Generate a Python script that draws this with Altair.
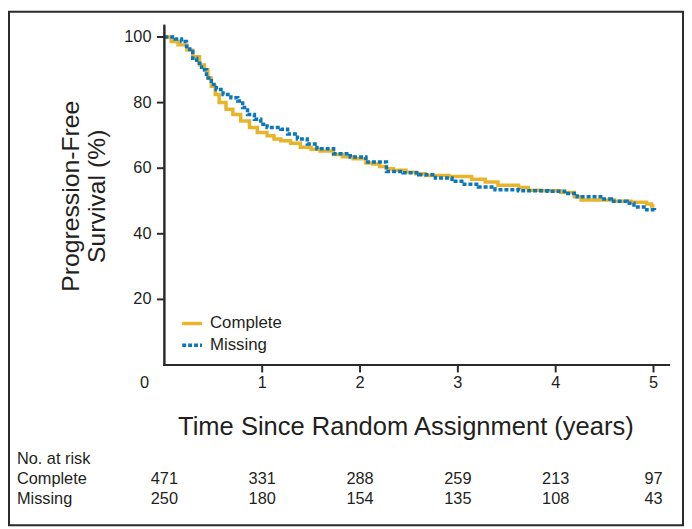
import altair as alt
import pandas as pd

# ---- data ----
complete_t = [0, 0.07, 0.14, 0.23, 0.29, 0.36, 0.41, 0.445, 0.48, 0.52, 0.56, 0.63, 0.70, 0.78,
              0.87, 0.95, 1.05, 1.12, 1.19, 1.29, 1.39, 1.50, 1.59, 1.73, 1.82, 1.93, 2.06, 2.13,
              2.20, 2.27, 2.34, 2.47, 2.57, 2.67, 2.91, 3.14, 3.28, 3.41, 3.62, 3.72, 3.85, 4.05,
              4.19, 4.26, 4.60, 4.77, 4.93, 4.98, 5.01]
complete_s = [100, 98.6, 97.6, 96, 94, 91.5, 90, 87.5, 85, 82.5, 80, 78, 76.4, 74.4,
              72.4, 70.9, 69.9, 68.9, 68.4, 67.6, 66.4, 65.8, 65.2, 64.2, 63.5, 62.9, 61.6, 61.3,
              60.5, 59.8, 59.4, 58.8, 58.3, 57.8, 57.5, 56.6, 55.8, 54.8, 54.1, 53.3, 53.1, 52.6,
              51.3, 50.3, 49.9, 49.6, 49.1, 48.5, 48.5]

missing_t = [0, 0.11, 0.175, 0.226, 0.26, 0.29, 0.33, 0.38, 0.43, 0.48, 0.53, 0.60, 0.68, 0.75,
             0.80, 0.85, 0.92, 0.985, 1.05, 1.19, 1.26, 1.36, 1.46, 1.56, 1.73, 1.90, 2.06, 2.27,
             2.44, 2.60, 2.77, 2.94, 3.04, 3.21, 3.38, 3.62, 3.92, 4.09, 4.22, 4.46, 4.57, 4.73,
             4.80, 4.93, 5.01]
missing_s = [100, 99.4, 98.6, 97.1, 95.6, 93.5, 92, 90, 87.5, 85.5, 84, 82.5, 81.5, 80.5,
             78.5, 76.4, 74.9, 73.4, 72.4, 71.9, 70.4, 68.9, 67.4, 65.9, 64.4, 63.4, 61.9, 59.0,
             58.6, 58.0, 57.0, 56.0, 55.1, 54.3, 53.4, 53.1, 53.0, 52.3, 51.3, 50.6, 49.9, 49.3,
             48.2, 47.3, 47.2]

groups = ["Complete", "Missing"]
colors = ["#E8B52A", "#0A76BC"]

risk_times = [0, 1, 2, 3, 4, 5]
risk_complete = [471, 331, 288, 259, 213, 97]
risk_missing = [250, 180, 154, 135, 108, 43]
row_labels = ["No. at risk", "Complete", "Missing"]

x_ticks = [1, 2, 3, 4, 5]
y_ticks = [20, 40, 60, 80, 100]
x_extent = [0, 5.16]
y_extent = [0, 103.5]
x_title = "Time Since Random Assignment (years)"
y_title = ["Progression-Free", "Survival (%)"]

FONT = "Liberation Sans, Arial, Helvetica, sans-serif"
TXT = "#231F20"
AX = "#2a2a2a"

km = pd.DataFrame(
    {"time": complete_t + missing_t,
     "surv": complete_s + missing_s,
     "group": ["Complete"] * len(complete_t) + ["Missing"] * len(missing_t)}
)
risk_c = pd.DataFrame({"time": risk_times, "n": [str(v) for v in risk_complete]})
risk_m = pd.DataFrame({"time": risk_times, "n": [str(v) for v in risk_missing]})
xt_df = pd.DataFrame({"time": x_ticks, "lab": [str(v) for v in x_ticks]})
yt_df = pd.DataFrame({"surv": y_ticks, "lab": [str(v) for v in y_ticks]})
xd_df = pd.DataFrame({"time": x_extent})
yd_df = pd.DataFrame({"surv": y_extent})

W, H = 510, 343

xscale = alt.Scale(domain=x_extent, nice=False, zero=False)
yscale = alt.Scale(domain=y_extent, nice=False)
XQ = alt.X("time:Q", scale=xscale, axis=None)
YQ = alt.Y("surv:Q", scale=yscale, axis=None)

leg = alt.Legend(title=None, orient="none", legendX=16, legendY=289,
                 symbolType="stroke", symbolSize=400, symbolStrokeWidth=3.5,
                 labelFontSize=17, labelFont=FONT, labelColor=TXT,
                 labelOffset=6, rowPadding=2, padding=0)

one = alt.Data(values=[{}])

lines = alt.Chart(km).mark_line(interpolate="step-after", strokeWidth=3.5).encode(
    x=XQ, y=YQ,
    color=alt.Color("group:N", scale=alt.Scale(domain=groups, range=colors), legend=leg),
    strokeDash=alt.StrokeDash("group:N", scale=alt.Scale(domain=groups, range=[[1, 0], [4, 2]]),
                              legend=leg),
)

# axis lines (path and rect versions in the same place) and tick marks, drawn after the curves
x_domain = alt.Chart(xd_df).mark_line(color=AX, strokeWidth=2, strokeCap="square").encode(
    x=XQ, y=alt.value(H))
y_domain = alt.Chart(yd_df).mark_line(color=AX, strokeWidth=2, strokeCap="square").encode(
    y=YQ, x=alt.value(0))
x_domain_r = alt.Chart(one).mark_rect(color=AX, opacity=1).encode(
    x=alt.value(-1), x2=alt.value(W), y=alt.value(H - 1), y2=alt.value(H + 1))
y_domain_r = alt.Chart(one).mark_rect(color=AX, opacity=1).encode(
    x=alt.value(-1), x2=alt.value(1), y=alt.value(0), y2=alt.value(H + 1))
x_tick_marks = alt.Chart(xt_df).mark_tick(orient="vertical", size=7, thickness=2, color=AX,
                                          opacity=1).encode(x=XQ, y=alt.value(H + 4))
y_tick_marks = alt.Chart(yt_df).mark_tick(orient="horizontal", size=7, thickness=2, color=AX,
                                          opacity=1).encode(y=YQ, x=alt.value(-4))

def txt(**kw):
    base = dict(fontSize=16.5, font=FONT, color=TXT, baseline="middle")
    base.update(kw)
    return base

x_labels = alt.Chart(xt_df).mark_text(**txt()).encode(
    x=XQ, y=alt.value(H + 18), text="lab:N")
y_labels = alt.Chart(yt_df).mark_text(**txt(align="right")).encode(
    y=YQ, x=alt.value(-13), text="lab:N")
zero = alt.Chart(alt.Data(values=[{"t": "0"}])).mark_text(**txt()).encode(
    x=alt.value(-20), y=alt.value(H + 18), text="t:N")

x_title_l = alt.Chart(alt.Data(values=[{"t": x_title}])).mark_text(
    **txt(fontSize=25.8, align="center")).encode(
    x=alt.value(244), y=alt.value(H + 63), text="t:N")
y_title_1 = alt.Chart(alt.Data(values=[{"t": y_title[0]}])).mark_text(
    **txt(fontSize=25, align="center", angle=270)).encode(
    x=alt.value(-94), y=alt.value(H / 2 + 1), text="t:N")
y_title_2 = alt.Chart(alt.Data(values=[{"t": y_title[1]}])).mark_text(
    **txt(fontSize=25, align="center", angle=270)).encode(
    x=alt.value(-68), y=alt.value(H / 2 + 1), text="t:N")

def text_layer(df, ypix):
    return alt.Chart(df).mark_text(**txt()).encode(x=XQ, y=alt.value(ypix), text="n:N")

row_c = text_layer(risk_c, 458)
row_m = text_layer(risk_m, 478)

def label_layer(t, ypix):
    return alt.Chart(alt.Data(values=[{"lab": t}])).mark_text(**txt(align="left")).encode(
        x=alt.value(-149), y=alt.value(ypix), text="lab:N")

lab0 = label_layer(row_labels[0], 438)
lab1 = label_layer(row_labels[1], 458)
lab2 = label_layer(row_labels[2], 478)

frame = alt.Chart(one).mark_rect(
    fill="transparent", stroke=AX, strokeWidth=2).encode(
    x=alt.value(-157), x2=alt.value(524), y=alt.value(-14), y2=alt.value(505))

chart = alt.layer(lines, x_domain_r, y_domain_r, x_domain, y_domain, x_tick_marks, y_tick_marks,
                  x_labels, y_labels, zero, x_title_l, y_title_1, y_title_2,
                  row_c, row_m, lab0, lab1, lab2, frame).properties(
    width=W, height=H, padding=0, background="white"
).configure_view(strokeWidth=0)

chart.save("out.html", embed_options={"renderer": "svg", "actions": False})
